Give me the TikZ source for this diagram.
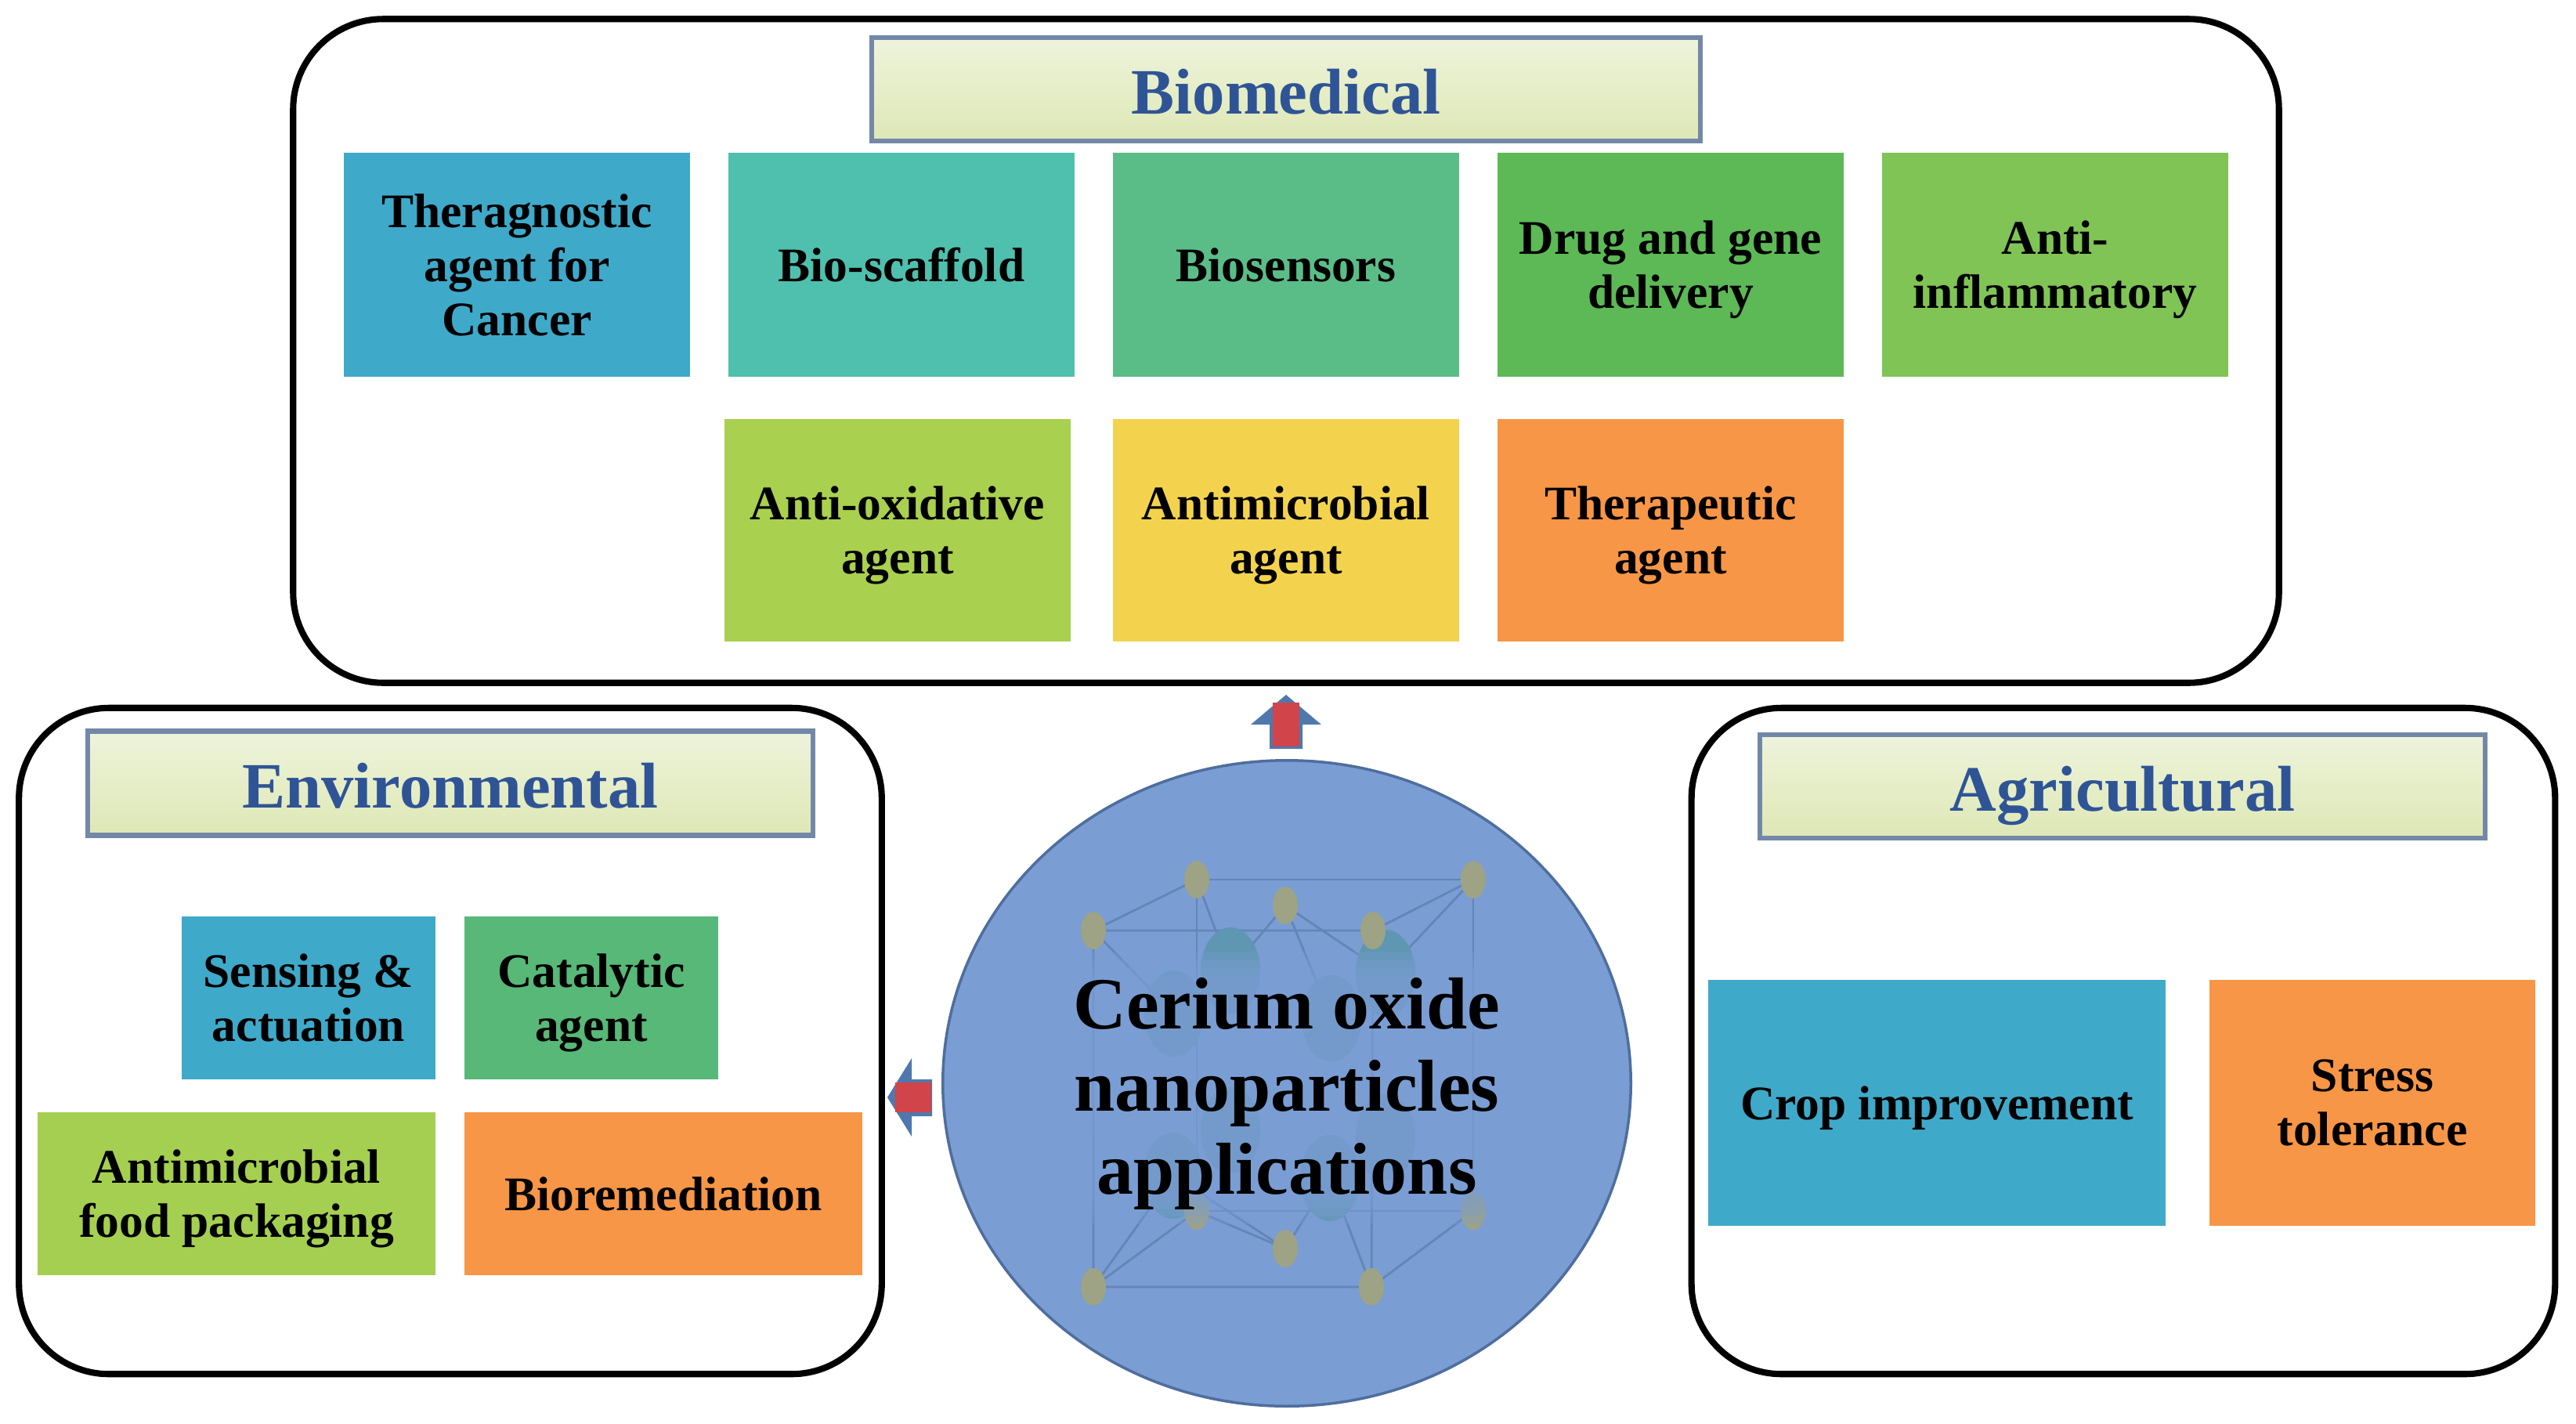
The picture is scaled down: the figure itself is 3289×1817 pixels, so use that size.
\documentclass[tikz,border=0pt]{standalone}
\usepackage{fontspec}
\setmainfont{Liberation Serif}
\usetikzlibrary{shapes.geometric,calc}
\definecolor{discblue}{HTML}{7A9DD3}
\definecolor{discedge}{HTML}{4F6E9E}
\definecolor{headblue}{HTML}{2F5496}
\definecolor{boxedge}{HTML}{7388A8}
\definecolor{bantop}{HTML}{EEF3DC}
\definecolor{banmid}{HTML}{E6EEC8}
\definecolor{banbot}{HTML}{DEE7B6}
\definecolor{cteal}{HTML}{3FA9C9}
\definecolor{cmint}{HTML}{4FC0AE}
\definecolor{cgreen}{HTML}{5ABD87}
\definecolor{ccata}{HTML}{57B878}
\definecolor{cleaf}{HTML}{5CB955}
\definecolor{cgrass}{HTML}{80C455}
\definecolor{clime}{HTML}{A9D04F}
\definecolor{cyell}{HTML}{F3D34E}
\definecolor{corange}{HTML}{F79646}
\definecolor{arrowred}{HTML}{D0444A}
\definecolor{arrowblue}{HTML}{4F78AE}
\definecolor{cellatom}{HTML}{9DA384}
\definecolor{celloxy}{HTML}{5F97B3}
\definecolor{cellbond}{HTML}{6485B8}
\tikzset{
  panel/.style={draw=black,line width=2.3pt,rounded corners=1.15cm,fill=white},
  banner/.style={draw=boxedge,line width=1.8pt,top color=bantop,bottom color=banbot,middle color=banmid,
    text=headblue,font=\bfseries\fontsize{23.5}{28}\selectfont,inner sep=0pt,text height=0.62cm,text depth=0pt},
  tile/.style={inner sep=0pt,align=center,text=black,text depth=0pt,font=\bfseries\fontsize{17.5}{19.6}\selectfont},
  disc/.style={ellipse,draw=discedge,line width=1pt,fill=discblue,inner sep=0pt,minimum width=8.78cm,minimum height=8.24cm},
  atom/.style={fill=cellatom},
  oxy/.style={fill=celloxy},
  bond/.style={draw=cellbond,line width=0.8pt}
}
\begin{document}
\begin{tikzpicture}[x=0.01cm,y=-0.01cm]
\useasboundingbox (0,0) rectangle (3289,1817);
% panels
\node[panel,minimum width=25.34cm,minimum height=8.47cm] (biopanel) at (1642,448) {};
\node[panel,minimum width=11.01cm,minimum height=8.5cm] (envpanel) at (575,1329) {};
\node[panel,minimum width=11.02cm,minimum height=8.5cm] (agripanel) at (2711,1329) {};
% headers
\node[banner,minimum width=10.57cm,minimum height=1.32cm] (biohead) at (1642,114) {Biomedical};
\node[banner,minimum width=9.25cm,minimum height=1.33cm] (envhead) at (575,1000) {Environmental};
\node[banner,minimum width=9.25cm,minimum height=1.32cm] (agrihead) at (2710,1004) {Agricultural};
% biomedical
\node[tile,fill=cteal,minimum width=4.41cm,minimum height=2.85cm] (thera) at (660,338) {Theragnostic\\agent for\\Cancer};
\node[tile,fill=cmint,minimum width=4.41cm,minimum height=2.85cm] (scaff) at (1151,338) {Bio-scaffold};
\node[tile,fill=cgreen,minimum width=4.41cm,minimum height=2.85cm] (senso) at (1642,338) {Biosensors};
\node[tile,fill=cleaf,minimum width=4.41cm,minimum height=2.85cm] (drug) at (2133,338) {Drug and gene\\delivery};
\node[tile,fill=cgrass,minimum width=4.41cm,minimum height=2.85cm] (infl) at (2624,338) {Anti-\\inflammatory};
\node[tile,fill=clime,minimum width=4.41cm,minimum height=2.83cm] (oxid) at (1146,677) {Anti-oxidative\\agent};
\node[tile,fill=cyell,minimum width=4.41cm,minimum height=2.83cm] (micro) at (1642,677) {Antimicrobial\\agent};
\node[tile,fill=corange,minimum width=4.41cm,minimum height=2.83cm] (ther) at (2133,677) {Therapeutic\\agent};
% environmental
\node[tile,fill=cteal,minimum width=3.23cm,minimum height=2.08cm] (sens) at (394,1274) {Sensing \&\\actuation};
\node[tile,fill=ccata,minimum width=3.23cm,minimum height=2.08cm] (cata) at (755,1274) {Catalytic\\agent};
\node[tile,fill=clime!90!cgrass,minimum width=5.08cm,minimum height=2.08cm] (food) at (302,1524) {Antimicrobial\\food packaging};
\node[tile,fill=corange,minimum width=5.07cm,minimum height=2.08cm] (biorem) at (847,1524) {Bioremediation};
% agricultural
\node[tile,fill=cteal,minimum width=5.84cm,minimum height=3.13cm] (crop) at (2473,1408) {Crop improvement};
\node[tile,fill=corange,minimum width=4.16cm,minimum height=3.13cm] (stress) at (3029,1408) {Stress\\tolerance};
% centre
\node[disc] (ceria) at (1643,1383) {};
\coordinate (A) at (1528,1123);
\coordinate (B) at (1881,1123);
\coordinate (C) at (1396,1188);
\coordinate (D) at (1753,1188);
\coordinate (E) at (1641,1156);
\coordinate (F) at (1396,1643);
\coordinate (G) at (1751,1643);
\coordinate (H) at (1641,1594);
\coordinate (I) at (1881,1546);
\coordinate (J) at (1528,1546);
\coordinate (O1) at (1571,1239);
\coordinate (O2) at (1769,1242);
\coordinate (O3) at (1499,1294);
\coordinate (O4) at (1700,1300);
\coordinate (O5) at (1498,1501);
\coordinate (O6) at (1698,1504);
\coordinate (O7) at (1571,1443);
\coordinate (O8) at (1769,1452);
\draw[bond] (A) -- (B) -- (I) -- (J) -- cycle;
\draw[bond] (C) -- (D) -- (G) -- (F) -- cycle;
\draw[bond] (C) -- (A) (D) -- (B) (F) -- (J) (G) -- (I);
\draw[bond] (A) -- (O1) -- (E) -- (O2) (E) -- (O4) (C) -- (O3) (B) -- (O2) (F) -- (O5) -- (H) -- (O6) -- (G) (J) -- (H) (O3) -- (O1);
\foreach \p in {O1,O2,O3,O4,O5,O6,O7,O8}
	\fill[oxy] (\p) ellipse (38 and 55);
\foreach \p in {A,B,C,D,E,F,G,H,I,J}
	\fill[atom] (\p) ellipse (16 and 24);
% glow behind each line of text
\foreach \y/\w in {1283/560,1390/560,1495/490}
	\foreach \e in {30,20,10,0}
		\fill[discblue,opacity=0.3,rounded corners=0.3cm] (1643-\w/2-\e,\y-38-\e) rectangle (1643+\w/2+\e,\y+38+\e);
\node[inner sep=0pt,align=center,text=black,text depth=0pt,font=\bfseries\fontsize{26.7}{30}\selectfont] (ceriatxt) at (1643,1386) {Cerium oxide\\nanoparticles\\applications};
% arrows
\coordinate (U) at (1642,887);
\coordinate (L) at (1133,1401);
\fill[arrowblue] (U) -- ++(45,38) -- ++(-24,0) -- ++(0,31) -- ++(-42,0) -- ++(0,-31) -- ++(-24,0) -- cycle;
\fill[arrowred] ($(U)+(-17,10)$) rectangle ($(U)+(17,66)$);
\fill[arrowblue] (L) -- ++(31,-50) -- ++(0,27) -- ++(26,0) -- ++(0,47) -- ++(-26,0) -- ++(0,26) -- cycle;
\fill[arrowred] ($(L)+(10,-19)$) rectangle ($(L)+(56,19)$);
\end{tikzpicture}
\end{document}
